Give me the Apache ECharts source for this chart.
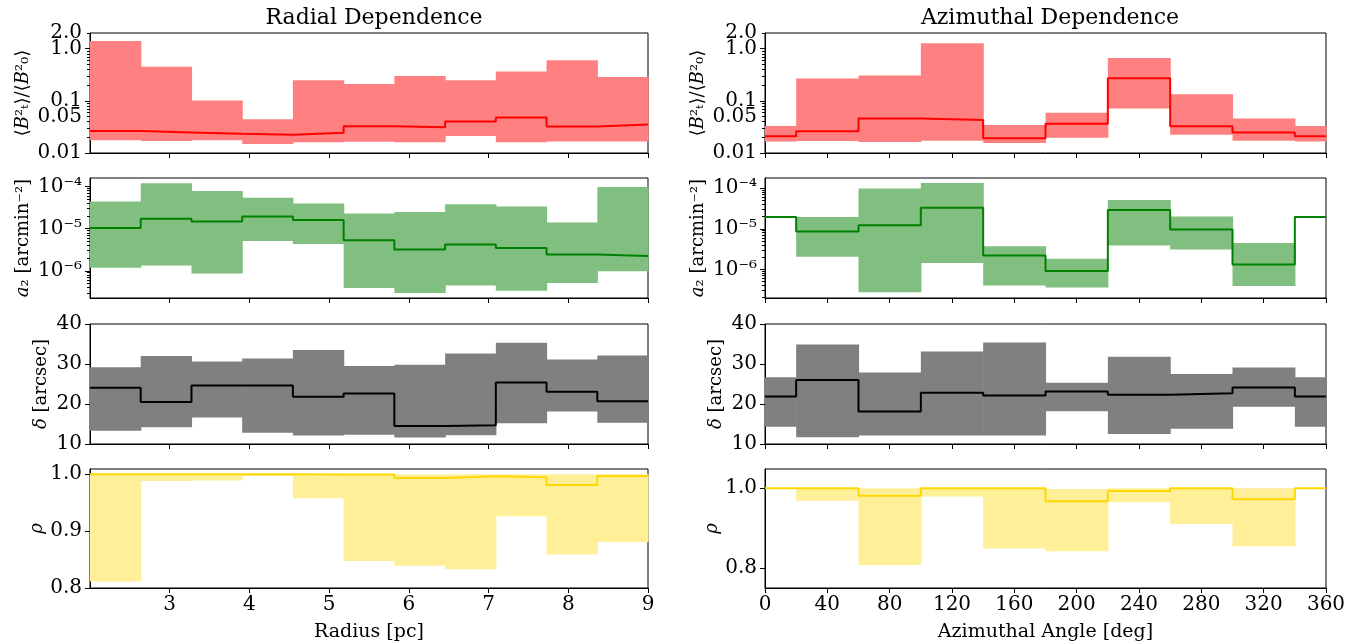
<!DOCTYPE html>
<html>
<head>
<meta charset="utf-8">
<script src="https://cdn.jsdelivr.net/npm/echarts@6/dist/echarts.min.js"></script>
<style>
  html, body { margin: 0; padding: 0; background: #fff; }
  #chart { width: 1361px; height: 643px; }
</style>
</head>
<body>
<div id="chart"></div>
<script>
// bin edges
var radEdges = [2.0, 2.636, 3.273, 3.909, 4.545, 5.182, 5.818, 6.455, 7.091, 7.727, 8.364, 9.0];
var azEdges = [0, 20, 60, 100, 140, 180, 220, 260, 300, 340, 360];

// radial dependence
var radB2Med = [0.0263, 0.0248, 0.0234, 0.0224, 0.0244, 0.0327, 0.0313, 0.0402, 0.0479, 0.0323, 0.0352];
var radB2Lo  = [0.0175, 0.0169, 0.0175, 0.0149, 0.0160, 0.0165, 0.0160, 0.0211, 0.0160, 0.0167, 0.0167];
var radB2Hi  = [1.41, 0.45, 0.101, 0.0445, 0.247, 0.21, 0.299, 0.247, 0.366, 0.603, 0.286];

var radA2Med = [1.04e-5, 1.72e-5, 1.49e-5, 1.95e-5, 1.6e-5, 5.3e-6, 3.19e-6, 4.19e-6, 3.5e-6, 2.43e-6, 2.26e-6];
var radA2Lo  = [1.18e-6, 1.34e-6, 8.65e-7, 5.1e-6, 4.34e-6, 3.9e-7, 2.97e-7, 4.5e-7, 3.37e-7, 5.1e-7, 9.8e-7];
var radA2Hi  = [4.43e-5, 1.2e-4, 7.9e-5, 5.4e-5, 3.97e-5, 2.3e-5, 2.48e-5, 3.83e-5, 3.37e-5, 1.41e-5, 9.8e-5];

var radDelMed = [24.05, 20.5, 24.6, 24.6, 21.8, 22.6, 14.5, 14.7, 25.4, 23.05, 20.7];
var radDelLo  = [13.3, 14.2, 16.6, 12.8, 12.1, 12.3, 11.6, 12.2, 15.2, 18.1, 15.3];
var radDelHi  = [29.2, 32.0, 30.6, 31.4, 33.5, 29.5, 29.8, 32.6, 35.3, 31.1, 32.1];

var radRhoMed = [1.0, 1.0, 1.0, 1.0, 0.9995, 0.9995, 0.9936, 0.9965, 0.995, 0.981, 0.997];
var radRhoLo  = [0.8116, 0.988, 0.989, 0.997, 0.958, 0.8475, 0.839, 0.833, 0.926, 0.859, 0.881];
var radRhoHi  = [1.0, 1.0, 1.0, 1.0, 1.0, 1.0, 1.0, 1.0, 1.0, 1.0, 1.0];

// azimuthal dependence
var azB2Med = [0.021, 0.0261, 0.0461, 0.0429, 0.0192, 0.0365, 0.272, 0.0325, 0.0247, 0.021];
var azB2Lo  = [0.0166, 0.0169, 0.0162, 0.0171, 0.0155, 0.0195, 0.0713, 0.0223, 0.0171, 0.0166];
var azB2Hi  = [0.033, 0.268, 0.306, 1.27, 0.0345, 0.059, 0.662, 0.1334, 0.0461, 0.033];

var azA2Med = [1.96e-5, 8.6e-6, 1.23e-5, 3.31e-5, 2.2e-6, 9.1e-7, 2.9e-5, 9.6e-6, 1.32e-6, 1.96e-5];
var azA2Lo  = [null, 2.04e-6, 2.7e-7, 1.43e-6, 4.0e-7, 3.57e-7, 3.85e-6, 3.08e-6, 3.85e-7, null];
var azA2Hi  = [null, 1.96e-5, 9.8e-5, 1.35e-4, 3.71e-6, 1.82e-6, 5.1e-5, 2.0e-5, 4.47e-6, null];

var azDelMed = [21.9, 26.0, 18.1, 22.8, 22.1, 23.1, 22.3, 22.7, 24.1, 21.9];
var azDelLo  = [14.3, 11.7, 12.1, 12.1, 12.1, 18.2, 12.5, 13.8, 19.3, 14.3];
var azDelHi  = [26.7, 34.9, 27.9, 33.1, 35.4, 25.3, 31.8, 27.5, 29.1, 26.7];

var azRhoMed = [1.0, 1.0, 0.981, 1.0, 1.0, 0.967, 0.9926, 1.0, 0.972, 1.0];
var azRhoLo  = [null, 0.9686, 0.8074, 0.979, 0.849, 0.842, 0.9645, 0.91, 0.8545, null];
var azRhoHi  = [null, 1.0, 1.0, 1.0, 1.0, 0.998, 1.0, 1.0, 1.0, null];

// tick labels
var radTicks = [3, 4, 5, 6, 7, 8, 9];
var b2TickVals = [0.01, 0.05, 0.1, 0.5, 1];
var b2TickText = ['0.01', '0.05', '0.1', '0.5', '1.0'];
var b2TopVals = [1.999];          // the "2.0" label sits at the axis top
var b2TopText = ['2.0'];
var a2TickVals = [1e-6, 1e-5, 1e-4];
var a2TickText = ['10⁻⁶', '10⁻⁵', '10⁻⁴'];
var delTickVals = [10, 20, 30, 40];
var radRhoTickVals = [0.8, 0.9, 1.0];
var azRhoTickVals = [0.8, 1.0];

var FONT = 'DejaVu Serif';
var TICK_SIZE = 20;
var NAME_SIZE = 18;
var chart = echarts.init(document.getElementById('chart'));

// log minor ticks between lo and hi (2..9 of each decade)
function minorTicks(lo, hi) {
  var out = [];
  for (var e = -8; e <= 1; e++) {
    for (var m = 2; m <= 9; m++) {
      var v = m * Math.pow(10, e);
      if (v >= lo && v <= hi) out.push(v);
    }
  }
  return out;
}

function lookup(vals, text) {
  return function (v) {
    for (var i = 0; i < vals.length; i++) {
      if (Math.abs(v - vals[i]) / vals[i] < 1e-3) return text[i];
    }
    return '';
  };
}

// histogram outline: horizontal over each bin, vertical at each edge
function stepPts(edges, vals) {
  var pts = [];
  for (var i = 0; i < vals.length; i++) {
    pts.push([edges[i], vals[i]]);
    pts.push([edges[i + 1], vals[i]]);
  }
  return pts;
}

function bandData(edges, lo, hi) {
  var out = [];
  for (var i = 0; i < lo.length; i++) {
    if (lo[i] == null || hi[i] == null) continue;
    out.push([edges[i], edges[i + 1], lo[i], hi[i]]);
  }
  return out;
}

var tops = [33, 178, 324, 469];
var grids = [];
var xAxes = [];
var yAxes = [];
var series = [];
var minorY = [];

var b2Minor = [0.02, 0.03, 0.04, 0.05, 0.06, 0.07, 0.08, 0.09, 0.2, 0.3, 0.4, 0.5, 0.6, 0.7, 0.8, 0.9, 1.999];

// [edges, med, lo, hi, lineColor, fillColor, yType, ymin, ymax, name, nameGap, majorTicks, labelVals, labelFmt, minor, topLabel]
var panels = [
  [radEdges, radB2Med, radB2Lo, radB2Hi, '#ff0000', '#ff8080', 'log', 0.01, 2.0,
    '⟨{i|B}²ₜ⟩/⟨{i|B}²₀⟩', 58, [0.01, 0.1, 1], b2TickVals, lookup(b2TickVals, b2TickText), b2Minor, true],
  [radEdges, radA2Med, radA2Lo, radA2Hi, '#008000', '#80bf80', 'log', 2.26e-7, 1.6e-4,
    '{i|a}₂ [arcmin⁻²]', 58, a2TickVals, a2TickVals, lookup(a2TickVals, a2TickText), minorTicks(2.26e-7, 1.6e-4), false],
  [radEdges, radDelMed, radDelLo, radDelHi, '#000000', '#808080', 'value', 10, 40,
    '{i|δ} [arcsec]', 40, delTickVals, delTickVals, function (v) { return String(v); }, null, false],
  [radEdges, radRhoMed, radRhoLo, radRhoHi, '#ffd700', '#ffef99', 'value', 0.8, 1.0093,
    '{i|ρ}', 44, radRhoTickVals, radRhoTickVals, function (v) { return v.toFixed(1); }, null, false],
  [azEdges, azB2Med, azB2Lo, azB2Hi, '#ff0000', '#ff8080', 'log', 0.01, 2.0,
    '⟨{i|B}²ₜ⟩/⟨{i|B}²₀⟩', 58, [0.01, 0.1, 1], b2TickVals, lookup(b2TickVals, b2TickText), b2Minor, true],
  [azEdges, azA2Med, azA2Lo, azA2Hi, '#008000', '#80bf80', 'log', 1.96e-7, 1.79e-4,
    '{i|a}₂ [arcmin⁻²]', 58, a2TickVals, a2TickVals, lookup(a2TickVals, a2TickText), minorTicks(1.96e-7, 1.79e-4), false],
  [azEdges, azDelMed, azDelLo, azDelHi, '#000000', '#808080', 'value', 10, 40,
    '{i|δ} [arcsec]', 40, delTickVals, delTickVals, function (v) { return String(v); }, null, false],
  [azEdges, azRhoMed, azRhoLo, azRhoHi, '#ffd700', '#ffef99', 'value', 0.75, 1.048,
    '{i|ρ}', 44, azRhoTickVals, azRhoTickVals, function (v) { return v.toFixed(1); }, null, false]
];

panels.forEach(function (p, g) {
  var col = g < 4 ? 0 : 1;
  var row = g % 4;
  grids.push({
    left: col === 0 ? 90 : 765,
    width: col === 0 ? 558 : 561,
    top: tops[row],
    height: 120,
    show: true,
    borderColor: '#000',
    borderWidth: 1,
    backgroundColor: 'transparent'
  });

  var isBottom = row === 3;
  var xa = {
    type: 'value',
    gridIndex: g,
    min: col === 0 ? 2.0 : 0,
    max: col === 0 ? 9.0 : 360,
    axisLine: { show: true, onZero: false, lineStyle: { color: '#000', width: 1 } },
    axisTick: { show: true, length: 5, lineStyle: { color: '#000' } },
    axisLabel: { show: isBottom, margin: 7, showMinLabel: true, showMaxLabel: true,
      color: '#000', fontFamily: FONT, fontSize: TICK_SIZE },
    splitLine: { show: false }
  };
  if (col === 0) {
    xa.axisTick.customValues = radTicks;
    xa.axisLabel.customValues = radTicks;
  } else {
    xa.interval = 40;
  }
  if (isBottom) {
    xa.name = col === 0 ? 'Radius [pc]' : 'Azimuthal Angle [deg]';
    xa.nameLocation = 'middle';
    xa.nameGap = 35;
    xa.nameTextStyle = { color: '#000', fontFamily: FONT, fontSize: NAME_SIZE + 1 };
  }
  xAxes.push(xa);

  yAxes.push({
    type: p[6],
    gridIndex: g,
    min: p[7],
    max: p[8],
    position: 'left',
    name: p[9],
    nameLocation: 'middle',
    nameRotate: 90,
    nameGap: p[10],
    nameTextStyle: {
      color: '#000', fontFamily: FONT, fontSize: NAME_SIZE,
      rich: { i: { fontFamily: FONT, fontStyle: 'italic', fontSize: NAME_SIZE, color: '#000' } }
    },
    axisLine: { show: true, onZero: false, lineStyle: { color: '#000', width: 1 } },
    axisTick: { show: true, length: 5, customValues: p[11], lineStyle: { color: '#000' } },
    axisLabel: { show: true, margin: 8, customValues: p[12], formatter: p[13],
      showMinLabel: true, showMaxLabel: true, hideOverlap: false,
      color: '#000', fontFamily: FONT, fontSize: TICK_SIZE },
    splitLine: { show: false }
  });
  if (p[14]) minorY.push([g, p]);

  // uncertainty band
  var fill = p[5];
  series.push({
    type: 'custom',
    xAxisIndex: g,
    yAxisIndex: g,
    z: 1,
    silent: true,
    encode: { x: [0, 1], y: [2, 3] },
    data: bandData(p[0], p[2], p[3]),
    renderItem: function (params, api) {
      var a = api.coord([api.value(0), api.value(3)]);
      var b = api.coord([api.value(1), api.value(2)]);
      return {
        type: 'rect',
        shape: { x: a[0], y: a[1], width: b[0] - a[0] + 0.6, height: b[1] - a[1] },
        style: { fill: fill }
      };
    }
  });

  // median histogram line
  series.push({
    type: 'line',
    xAxisIndex: g,
    yAxisIndex: g,
    z: 3,
    showSymbol: false,
    silent: true,
    lineStyle: { color: p[4], width: 2 },
    data: stepPts(p[0], p[1])
  });
});

// second y axis per log panel for the short minor ticks (and the 2.0 label)
minorY.forEach(function (m) {
  var g = m[0], p = m[1];
  yAxes.push({
    type: 'log',
    gridIndex: g,
    min: p[7],
    max: p[8],
    position: 'left',
    offset: 0,
    axisLine: { show: false },
    axisTick: { show: true, length: 3, customValues: p[14], lineStyle: { color: '#000' } },
    axisLabel: {
      show: p[15], margin: 8, customValues: b2TopVals, formatter: lookup(b2TopVals, b2TopText),
      showMinLabel: true, showMaxLabel: true,
      color: '#000', fontFamily: FONT, fontSize: TICK_SIZE
    },
    splitLine: { show: false }
  });
});

var option = {
  animation: false,
  backgroundColor: '#fff',
  title: [
    { text: 'Radial Dependence', left: 369, top: 2, textAlign: 'center',
      textStyle: { fontFamily: FONT, fontSize: 22, fontWeight: 'normal', color: '#000' } },
    { text: 'Azimuthal Dependence', left: 1045, top: 2, textAlign: 'center',
      textStyle: { fontFamily: FONT, fontSize: 22, fontWeight: 'normal', color: '#000' } }
  ],
  grid: grids,
  xAxis: xAxes,
  yAxis: yAxes,
  series: series
};

chart.setOption(option);
</script>
</body>
</html>
